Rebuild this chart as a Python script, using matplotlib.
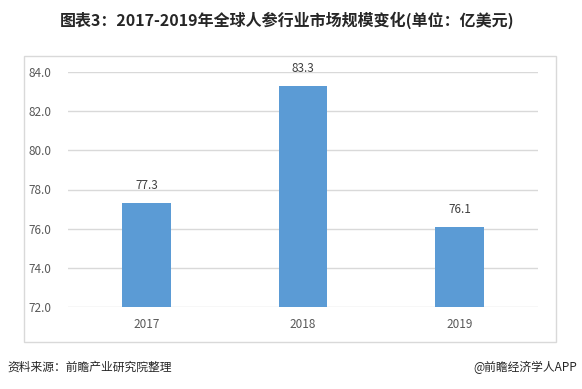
import matplotlib
matplotlib.use("Agg")
import matplotlib.pyplot as plt
from matplotlib.patches import Rectangle

plt.rcParams['font.family'] = ['Noto Sans CJK SC', 'DejaVu Sans']

years = ['2017', '2018', '2019']
values = [77.3, 83.3, 76.1]
yticks = [72.0, 74.0, 76.0, 78.0, 80.0, 82.0, 84.0]

W, H = 582, 389
fig = plt.figure(figsize=(W/100, H/100), dpi=100)
fig.patch.set_facecolor('white')

# outer frame
fig.patches.append(Rectangle((24/W, 1-342/H), (556-24)/W, (342-56)/H,
                             transform=fig.transFigure, fill=False,
                             edgecolor='#D9D9D9', linewidth=1))

ax = fig.add_axes([68/W, 1-307/H, (538-68)/W, (307-72)/H])
x = range(len(years))
ax.bar(x, values, width=0.31, color='#5B9BD5', zorder=3)
ax.set_ylim(72, 84)
ax.set_xlim(-0.5, 2.5)
ax.set_yticks(yticks)
ax.set_yticklabels([f'{t:.1f}' for t in yticks])
ax.set_xticks(list(x))
ax.set_xticklabels(years)
ax.grid(axis='y', color='#D9D9D9', linewidth=1, zorder=0)
for s in ax.spines.values():
    s.set_visible(False)
ax.tick_params(length=0, labelsize=8.5, labelcolor='#595959')
ax.tick_params(axis='y', pad=12)
ax.tick_params(axis='x', pad=8)
for xi, v in zip(x, values):
    ax.text(xi, v + 0.55, f'{v:.1f}', ha='center', va='bottom',
            fontsize=8.5, color='#404040')

fig.text(287/W, 1-20/H, '图表3：2017-2019年全球人参行业市场规模变化(单位：亿美元)',
         ha='center', va='center', fontsize=11.5, fontweight='bold', color='#262626')
fig.text(7/W, 1-367/H, '资料来源：前瞻产业研究院整理', ha='left', va='center',
         fontsize=8.5, color='#262626')
fig.text(577/W, 1-367/H, '@前瞻经济学人APP', ha='right', va='center',
         fontsize=8.5, color='#262626')

fig.savefig('out.png', dpi=100, facecolor='white')
